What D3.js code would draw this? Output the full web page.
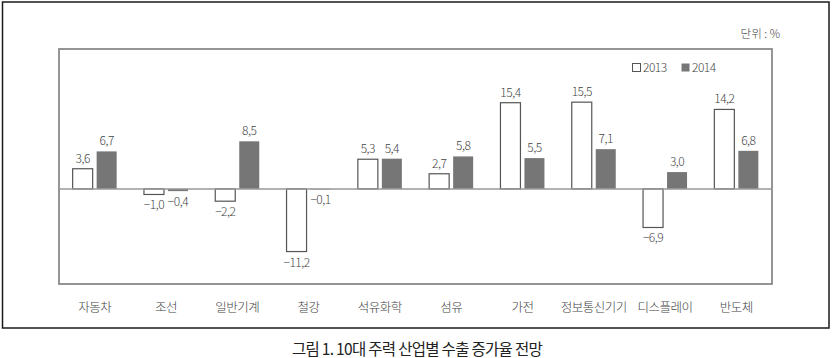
<!DOCTYPE html>
<html>
<head>
<meta charset="utf-8">
<script src="https://cdn.jsdelivr.net/npm/d3@7"></script>
<style>
  html, body { margin: 0; padding: 0; background: #fff; }
  svg text { font-family: "Noto Sans CJK KR", "Noto Sans", sans-serif; font-weight: 300; }
</style>
</head>
<body>
<svg id="chart" width="832" height="358"></svg>
<script>
const categories = ["자동차", "조선", "일반기계", "철강", "석유화학", "섬유", "가전", "정보통신기기", "디스플레이", "반도체"];
const series = ["2013", "2014"];
const values2013 = [3.6, -1.0, -2.2, -11.2, 5.3, 2.7, 15.4, 15.5, -6.9, 14.2];
const values2014 = [6.7, -0.4, 8.5, -0.1, 5.4, 5.8, 5.5, 7.1, 3.0, 6.8];
const labels2013 = ["3,6", "−1,0", "−2,2", "−11,2", "5,3", "2,7", "15,4", "15,5", "−6,9", "14,2"];
const labels2014 = ["6,7", "−0,4", "8,5", "−0,1", "5,4", "5,8", "5,5", "7,1", "3,0", "6,8"];
const unitLabel = "단위 : %";
const captionText = "그림 1. 10대 주력 산업별 수출 증가율 전망";

(function () {
const svg = d3.select("#chart");

// outer box
svg.append("rect").attr("x", 2.5).attr("y", 2).attr("width", 826.5).attr("height", 326)
  .attr("fill", "none").attr("stroke", "#1a1a1a").attr("stroke-width", 1.5);

const pLeft = 59, pRight = 772, pTop = 49, pBottom = 284;

const x = d3.scaleBand().domain(categories).range([pLeft, pRight]).padding(0);
const x1 = d3.scaleBand().domain(series).range([-22, 22]).paddingInner(1/6);
const y = d3.scaleLinear().domain([-17, 25]).range([pBottom, pTop]);

const data = categories.map((c, i) => ({
  cat: c,
  bars: [
    { s: "2013", v: values2013[i], label: labels2013[i] },
    { s: "2014", v: values2014[i], label: labels2014[i] }
  ]
}));

// plot frame
svg.append("rect").attr("x", pLeft).attr("y", pTop).attr("width", pRight - pLeft).attr("height", pBottom - pTop)
  .attr("fill", "none").attr("stroke", "#8a8a8a").attr("stroke-width", 1.8);

const groups = svg.selectAll("g.grp").data(data).enter().append("g")
  .attr("class", "grp")
  .attr("transform", d => `translate(${x(d.cat) + x.bandwidth() / 2},0)`);

groups.selectAll("rect").data(d => d.bars).enter().append("rect")
  .attr("x", d => x1(d.s))
  .attr("width", x1.bandwidth())
  .attr("y", d => y(Math.max(0, d.v)))
  .attr("height", d => Math.abs(y(d.v) - y(0)))
  .attr("fill", d => d.s === "2013" ? "#fff" : "#767676")
  .attr("stroke", d => d.s === "2013" ? "#555" : "none")
  .attr("stroke-width", 1.2);

groups.selectAll("text").data(d => d.bars).enter().append("text")
  .attr("x", d => x1(d.s) + x1.bandwidth() / 2)
  .attr("y", d => d.v >= 0 ? y(d.v) - 6 : y(d.v) + 15)
  .attr("text-anchor", "middle")
  .attr("font-size", 12)
  .attr("letter-spacing", "-0.5")
  .attr("fill", "#444")
  .text(d => d.label);

// zero line
svg.append("line").attr("x1", pLeft).attr("x2", pRight).attr("y1", y(0)).attr("y2", y(0))
  .attr("stroke", "#999").attr("stroke-width", 1.5);

// category axis labels
const xAxis = d3.axisBottom(x).tickSize(0).tickPadding(0);
const ax = svg.append("g").attr("transform", `translate(0,${pBottom})`).call(xAxis);
ax.select(".domain").remove();
ax.selectAll("text")
  .attr("y", 28)
  .attr("dy", 0)
  .attr("font-size", 12.5)
  .attr("letter-spacing", "-0.5")
  .attr("fill", "#444")
  .style("font-family", '"Noto Sans CJK KR", sans-serif')
  .style("font-weight", 300);

// legend
const legend = svg.append("g");
const legendItems = [
  { s: "2013", x: 632 },
  { s: "2014", x: 681 }
];
legendItems.forEach(it => {
  legend.append("rect").attr("x", it.x + 0.5).attr("y", 63.5).attr("width", 8).attr("height", 8)
    .attr("fill", it.s === "2013" ? "#fff" : "#767676")
    .attr("stroke", it.s === "2013" ? "#555" : "none").attr("stroke-width", 1);
  legend.append("text").attr("x", it.x + 11).attr("y", 72)
    .attr("font-size", 12).attr("letter-spacing", "-0.5").attr("fill", "#444").text(it.s);
});

// unit label
svg.append("text").attr("x", 780).attr("y", 38).attr("text-anchor", "end")
  .attr("font-size", 11.5).attr("fill", "#444").text(unitLabel);

// caption
svg.append("text").attr("x", 417).attr("y", 354.5).attr("text-anchor", "middle")
  .attr("font-size", 15.5).attr("letter-spacing", "-0.7").attr("fill", "#222")
  .style("font-weight", 400).text(captionText);
})();
</script>
</body>
</html>
